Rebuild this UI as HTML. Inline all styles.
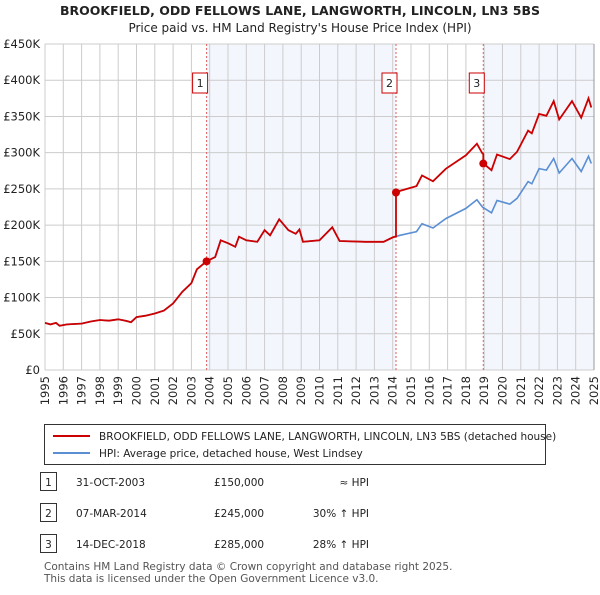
<!DOCTYPE html>
<html><head><meta charset="utf-8"><style>
body{margin:0;background:#fff;font-family:"Liberation Sans","DejaVu Sans",sans-serif;}
svg text{font-family:"DejaVu Sans","Liberation Sans",sans-serif;}
</style></head><body>
<svg id="c" width="600" height="590" xmlns="http://www.w3.org/2000/svg">
<text x="300" y="15" text-anchor="middle" font-size="12.5" font-weight="bold" fill="#222">BROOKFIELD, ODD FELLOWS LANE, LANGWORTH, LINCOLN, LN3 5BS</text>
<text x="300" y="32" text-anchor="middle" font-size="12" fill="#222">Price paid vs. HM Land Registry's House Price Index (HPI)</text>
<g id="plot"></g>
<g>
<rect x="44.5" y="424.5" width="501" height="40" fill="#fff" stroke="#333"/>
<line x1="53" y1="436" x2="90" y2="436" stroke="#cc0000" stroke-width="2"/>
<text x="99" y="440" font-size="10.5" fill="#222">BROOKFIELD, ODD FELLOWS LANE, LANGWORTH, LINCOLN, LN3 5BS (detached house)</text>
<line x1="53" y1="453" x2="90" y2="453" stroke="#5b8fd4" stroke-width="2"/>
<text x="99" y="457" font-size="10.5" fill="#222">HPI: Average price, detached house, West Lindsey</text>
</g>
<g id="tbl" font-size="10.5" fill="#222"></g>
<text x="44" y="570" font-size="10.5" fill="#555">Contains HM Land Registry data © Crown copyright and database right 2025.</text>
<text x="44" y="582" font-size="10.5" fill="#555">This data is licensed under the Open Government Licence v3.0.</text>
</svg>
<script>
const hpiYears=[1995,1995.3,1995.6,1995.8,1996.2,1997,1997.5,1998,1998.5,1999,1999.4,1999.7,2000,2000.5,2001,2001.5,2002,2002.5,2003,2003.3,2003.83,2004.3,2004.6,2005,2005.4,2005.6,2006,2006.6,2007,2007.3,2007.8,2008.3,2008.7,2008.9,2009.1,2010,2010.7,2011.1,2012.5,2013.5,2014,2014.4,2015.3,2015.6,2016.2,2016.9,2018,2018.6,2018.9,2019.4,2019.7,2020.4,2020.8,2021.4,2021.6,2022,2022.4,2022.8,2023.1,2023.8,2024.3,2024.7,2024.85];
const hpiValues=[65,63,65,61,63,64,67,69,68,70,68,66,73,75,78,82,92,108,120,139,150,156,179,175,170,184,179,177,193,186,208,193,188,194,177,179,197,178,177,177,183,186,191,202,196,209,223,235,225,217,234,229,237,260,257,278,276,292,272,292,274,295,285];
const saleYears=[2003.83,2014.18,2018.95];
const salePrices=[150,245,285];
const saleLabels=["1","2","3"];
const saleDates=["31-OCT-2003","07-MAR-2014","14-DEC-2018"];
const salePriceText=["£150,000","£245,000","£285,000"];
const saleHpiText=["≈ HPI","30% ↑ HPI","28% ↑ HPI"];
const yTicks=[0,50,100,150,200,250,300,350,400,450];
const yTickLabels=["£0","£50K","£100K","£150K","£200K","£250K","£300K","£350K","£400K","£450K"];
const xTicks=[1995,1996,1997,1998,1999,2000,2001,2002,2003,2004,2005,2006,2007,2008,2009,2010,2011,2012,2013,2014,2015,2016,2017,2018,2019,2020,2021,2022,2023,2024,2025];

const X0=45,X1=594,Y0=370,Y1=44;
const xs=y=>X0+(y-1995)/30*(X1-X0);
const ys=v=>Y0-v/450*(Y0-Y1);
const NS="http://www.w3.org/2000/svg";
const g=document.getElementById('plot');
function mk(t,a,p){const e=document.createElementNS(NS,t);for(const k in a)e.setAttribute(k,a[k]);(p||g).appendChild(e);return e;}
function hpiAt(y){for(let i=1;i<hpiYears.length;i++){if(y<=hpiYears[i]){const t=(y-hpiYears[i-1])/(hpiYears[i]-hpiYears[i-1]);return hpiValues[i-1]+t*(hpiValues[i]-hpiValues[i-1]);}}return hpiValues[hpiValues.length-1];}
// shading
let sh=mk('rect',{x:xs(saleYears[0]),y:Y1,width:xs(saleYears[1])-xs(saleYears[0]),height:Y0-Y1,fill:'#eef3fc',opacity:0.7});


let sh2=mk('rect',{x:xs(saleYears[2]),y:Y1,width:X1-xs(saleYears[2]),height:Y0-Y1,fill:'#eef3fc',opacity:0.7});


yTicks.forEach((v,i)=>{
 mk('line',{x1:X0,x2:X1,y1:ys(v),y2:ys(v),stroke:'#ccc','stroke-width':1});
 const t=mk('text',{x:40,y:ys(v)+4,'text-anchor':'end','font-size':11.5,fill:'#222'});t.textContent=yTickLabels[i];
 
 
});
xTicks.forEach(y=>{
 mk('line',{x1:xs(y),x2:xs(y),y1:Y1,y2:Y0,stroke:'#ccc','stroke-width':1});
 const t=mk('text',{x:0,y:0,'text-anchor':'end','font-size':11.5,fill:'#222',transform:`translate(${xs(y)+4},376) rotate(-90)`});t.textContent=y;
 
 
});
mk('line',{x1:X1,x2:X1,y1:Y1,y2:Y0,stroke:'#999','stroke-width':1});
// sale markers lines
saleYears.forEach((y,i)=>{
 mk('line',{x1:xs(y),x2:xs(y),y1:Y1,y2:Y0,stroke:'#e06060','stroke-width':1,'stroke-dasharray':'2,2'});
 const b=mk('rect',{x:xs(y)-14,y:73,width:15,height:20,fill:'#fff',stroke:'#cc0000'});
 
 
 const t=mk('text',{x:xs(y)-6.5,y:87,'text-anchor':'middle','font-size':11,fill:'#222'});t.textContent=saleLabels[i];
});
// hpi line
let d='';hpiYears.forEach((y,i)=>{d+=(i?'L':'M')+xs(y).toFixed(1)+','+ys(hpiValues[i]).toFixed(1);});
const hp=mk('path',{d:d,fill:'none',stroke:'#5b8fd4','stroke-width':1.6});


// property line: scaled HPI from each sale
let pd='';const pts=[];
const factor=y=>{let f=1;for(let i=saleYears.length-1;i>=0;i--){if(y>=saleYears[i]){return salePrices[i]/hpiAt(saleYears[i]);}}return salePrices[0]/hpiAt(saleYears[0]);};
const allY=hpiYears.concat(saleYears).sort((a,b)=>a-b);
allY.forEach(y=>{
 for(let i=0;i<saleYears.length;i++){if(Math.abs(y-saleYears[i])<1e-9&&i>0){pts.push([y,hpiAt(y)*factor(y-0.001)]);}}
 pts.push([y,hpiAt(y)*factor(y)]);
});
pts.forEach((p,i)=>{pd+=(i?'L':'M')+xs(p[0]).toFixed(1)+','+ys(p[1]).toFixed(1);});
const pl=mk('path',{d:pd,fill:'none',stroke:'#cc0000','stroke-width':1.8});


saleYears.forEach((y,i)=>{
 const c=mk('circle',{cx:xs(y),cy:ys(salePrices[i]),r:4,fill:'#cc0000'});
 
 
});
// table
const tb=document.getElementById('tbl');
const rowsY=[483,514,545];
rowsY.forEach((ry,i)=>{
 const r=mk('rect',{x:40.5,y:ry-10.5,width:16,height:18,fill:'#fff',stroke:'#333'},tb);
 
 
 const a=mk('text',{x:48.5,y:ry+3,'text-anchor':'middle'},tb);a.textContent=saleLabels[i];
 const b=mk('text',{x:76,y:ry+3},tb);b.textContent=saleDates[i];
 
 
 const c=mk('text',{x:214,y:ry+3},tb);c.textContent=salePriceText[i];
 
 
 const e=mk('text',{x:369,y:ry+3,'text-anchor':'end'},tb);e.textContent=saleHpiText[i];
 
 
});
</script>
</body></html>
